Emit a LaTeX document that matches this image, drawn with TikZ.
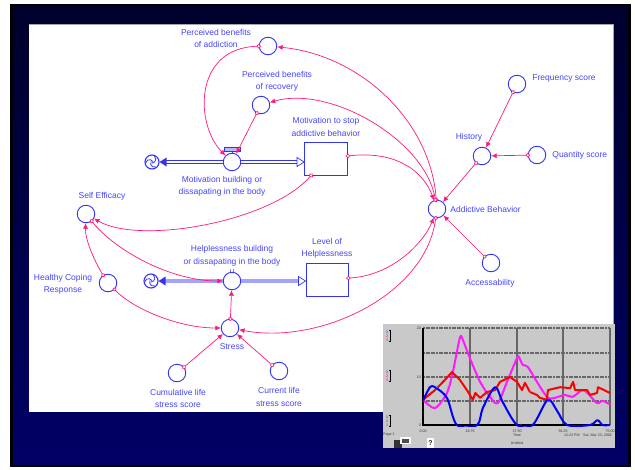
\documentclass[tikz,border=0pt]{standalone}
\usepackage{fontspec}
\setmainfont{Liberation Sans}
\usetikzlibrary{arrows.meta}
\usetikzlibrary{positioning}
\definecolor{sdblue}{rgb}{0.2, 0.2, 0.95}
\definecolor{sdtext}{rgb}{0.27, 0.27, 1}
\definecolor{sdpink}{rgb}{1, 0.1, 0.5}
\definecolor{navytop}{rgb}{0, 0, 0.17}
\definecolor{navybot}{rgb}{0, 0, 0.4}
\definecolor{panelgray}{rgb}{0.79, 0.79, 0.79}
\definecolor{gridgray}{rgb}{0.4, 0.4, 0.4}
\definecolor{numpink}{rgb}{0.8, 0.45, 1}
\definecolor{plotmag}{rgb}{1, 0.1, 1}

\tikzset{
    aux/.style={circle, draw=sdblue, line width=0.9pt, fill=white, minimum size=17.5pt, inner sep=0pt},
    stockbox/.style={draw=sdblue, line width=0.9pt, fill=white, minimum width=43pt, minimum height=33pt, inner sep=0pt},
    cloudy/.style={circle, draw=sdblue, line width=1.1pt, fill=white, minimum size=14pt, inner sep=0pt},
    lbl/.style={text=sdtext, font=\fontsize{8.5}{12.5}\selectfont, align=center, inner sep=0pt},
    infolink/.style={sdpink, line width=0.7pt, shorten <=-2.2pt, {Circle[length=4.4pt, fill=white]}-{Latex[length=5.5pt, width=5pt]}},
    pipe/.style={draw=sdblue, line width=0.7pt, double=white, double distance=2.4pt},
    tinytext/.style={font=\fontsize{3.6}{4}\selectfont, inner sep=0pt, text=gridgray!50!black},
}

\begin{document}
\begin{tikzpicture}[x=1pt, y=-1pt]
    \useasboundingbox (0,0) rectangle (635,469);
    \fill [black] (10,4) rectangle (631,467);
    \shade [top color=navytop, bottom color=navybot] (13,6) rectangle (628,464);
    \fill [white] (29,24) rectangle (613,412);
    \draw [gray!70] (29,24) -- (613,24) -- (613,412);

    \node [aux] (pba) at (268,46) {};
    \node [aux] (pbr) at (261,105) {};
    \node [cloudy] (mcloud) at (152,162) {};
    \node [aux] (mvalve) at (232,162) {};
    \node [stockbox] (mstock) at (326,158.5) {};
    \node [aux] (freq) at (517,84) {};
    \node [aux] (hist) at (482,156) {};
    \node [aux] (qty) at (537,155) {};
    \node [aux] (ab) at (437,209) {};
    \node [aux] (acc) at (491,263) {};
    \node [aux] (se) at (86,214) {};
    \node [aux] (hcr) at (108,283) {};
    \node [cloudy] (hcloud) at (151,281) {};
    \node [aux] (hvalve) at (232,281) {};
    \node [stockbox, minimum width=42pt] (lstock) at (327,279.5) {};
    \node [aux] (stress) at (230,328) {};
    \node [aux] (cls) at (177,373) {};
    \node [aux] (curr) at (279,371) {};

    \draw [pipe, shorten <=6pt] (mcloud) -- (mvalve);
    \draw [pipe, shorten >=6.5pt] (mvalve) -- (mvalve -| mstock.west);
    \fill [sdblue] (mcloud.east) -- ++(7,-4.5) -- ++(0,9) -- cycle;
    \draw [sdblue, fill=white, line width=0.7pt] (mvalve -| mstock.west) -- ++(-7,-4.5) -- ++(0,9) -- cycle;
    \draw [sdblue, line width=0.8pt] (mvalve.north) -- ++(0,-2.5);
    \draw [sdblue, fill=sdblue!35, line width=0.6pt] ([xshift=-8pt, yshift=11pt]mvalve.center) rectangle ([xshift=8pt, yshift=15pt]mvalve.center);

    \draw [pipe, double=sdblue!45, double distance=3.2pt, shorten <=6pt] (hcloud) -- (hvalve);
    \draw [pipe, double=sdblue!45, double distance=3.2pt, shorten >=6.5pt] (hvalve) -- (hvalve -| lstock.west);
    \fill [sdblue] (hcloud.east) -- ++(7,-4.5) -- ++(0,9) -- cycle;
    \draw [sdblue, fill=white, line width=0.7pt] (hvalve -| lstock.west) -- ++(-7,-4.5) -- ++(0,9) -- cycle;
    \draw [sdblue!60, line width=0.5pt] ([xshift=-1.5pt]hvalve.north) -- ++(0,-2.5) ([xshift=1.5pt]hvalve.north) -- ++(0,-2.5);

    \foreach \a in {30,150,270} {
        \draw [sdblue, line width=0.8pt] ([shift={(\a:1pt)}]mcloud.center) arc [start angle=\a, end angle=\a+140, radius=3.8pt];
        \draw [sdblue, line width=0.8pt] ([shift={(\a:1pt)}]hcloud.center) arc [start angle=\a, end angle=\a+140, radius=3.8pt];
    }

    \node [lbl] (pbalbl) at (216,38.5) {Perceived benefits\\of addiction};
    \node [lbl] (pbrlbl) at (277,81.5) {Perceived benefits\\of recovery};
    \node [lbl, above=5pt of mstock] (mstocklbl) {Motivation to stop\\addictive behavior};
    \node [lbl] (mflowlbl) at (222,186.5) {Motivation building or\\dissapating in the body};
    \node [lbl, right=6pt of freq, yshift=6pt] (freqlbl) {Frequency score};
    \node [lbl] (histlbl) at (469,137) {History};
    \node [lbl, right=6pt of qty] (qtylbl) {Quantity score};
    \node [lbl, right=4pt of ab] (ablbl) {Addictive Behavior};
    \node [lbl] (acclbl) at (490,283) {Accessability};
    \node [lbl] (selbl) at (102,196) {Self Efficacy};
    \node [lbl] (hcrlbl) at (63,284.5) {Healthy Coping\\Response};
    \node [lbl] (hflowlbl) at (232,256) {Helplessness building\\or dissapating in the body};
    \node [lbl, above=4pt of lstock] (lstocklbl) {Level of\\Helplessness};
    \node [lbl] (stresslbl) at (232,347) {Stress};
    \node [lbl] (clslbl) at (178,398.5) {Cumulative life\\stress score};
    \node [lbl] (currlbl) at (279,397) {Current life\\stress score};

    \draw [infolink] (pba) .. controls (193,48) and (195,125) .. (mvalve);
    \draw [infolink] (pbr) -- (mvalve);
    \draw [infolink] (ab) .. controls (430,120) and (360,55) .. (pba);
    \draw [infolink] (ab) .. controls (425,140) and (330,85) .. (pbr);
    \draw [infolink] (mstock) .. controls (400,150) and (425,175) .. (ab);
    \draw [infolink] (mstock) .. controls (270,222) and (140,245) .. (se);
    \draw [infolink] (se) .. controls (115,250) and (170,281) .. (hvalve);
    \draw [infolink] (hcr) .. controls (95,262) and (85,240) .. (se);
    \draw [infolink] (hcr) .. controls (135,310) and (180,328) .. (stress);
    \draw [infolink] (stress) -- (hvalve);
    \draw [infolink] (cls) -- (stress);
    \draw [infolink] (curr) -- (stress);
    \draw [infolink] (lstock) .. controls (395,275) and (425,240) .. (ab);
    \draw [infolink] (ab) .. controls (425,295) and (320,345) .. (stress);
    \draw [infolink] (hist) -- (ab);
    \draw [infolink] (freq) -- (hist);
    \draw [infolink] (qty) -- (hist);
    \draw [infolink] (acc) -- (ab);

    \fill [panelgray] (383,324) rectangle (615,448);
    \foreach \gx in {470,517,563,610}
        \draw [gridgray, line width=1.1pt] (\gx,328) -- (\gx,425);
    \foreach \gy in {328,353,377,401}
        \draw [gridgray, line width=1.1pt, dash pattern=on 2pt off 0.6pt] (423,\gy) -- (610,\gy);
    \draw [black, line width=1.2pt] (423,328) -- (423,425) -- (610,425);

    \begin{scope}[shift={(423,425)}, x=2.493pt, y=4.85pt, line width=2pt, line join=round]
        \clip (0,-0.4) rectangle (75.5,21);
        \draw [plotmag] plot [smooth, tension=0.5] coordinates {(0,5.2) (4.8,3.5) (9.6,6.6) (12,11) (14.8,18) (16,17.5) (18.8,13.8) (22.9,8.9) (26.9,5.8) (30,4.5) (33.7,8.9) (37.7,13.8) (38.5,14) (40,12.4) (42,12) (45.7,8.9) (49.7,5.8) (52,5.5) (57,6.2) (60,5.8) (63.8,7.2) (66,6.6) (69.8,4.5) (72,5) (75,4.2)};
        \draw [red] plot coordinates {(0,5.2) (4.8,7.2) (8.8,9.3) (11.6,10.9) (14.8,9.3) (17.6,7.2) (20,5.2) (21,6.6) (22.9,5.6) (25.7,6.8) (28.9,7.2) (30.9,8.9) (34.9,9.9) (37.7,8.9) (39.7,7.2) (40.9,8.7) (42.9,6.8) (45.7,6.2) (46.9,5.6) (49.7,5.2) (50.1,7.2) (55,7.8) (59,7.6) (60.2,8.9) (61,7.2) (65.8,7.2) (67,6.2) (69.8,6.6) (70.2,7.8) (75,6.6)};
        \draw [blue] plot [smooth, tension=0.5] coordinates {(0,5) (2.8,7.8) (4.8,7.8) (9.6,5.6) (13.6,0) (21.7,0) (24,3.5) (28.9,7.8) (32,4.7) (37.7,0) (44,0) (50,5.2) (53.7,3) (57.8,0) (67,0) (70,1) (72,0) (75,0)};
    \end{scope}

    \foreach \px/\py/\n [count=\k] in {428/386/1, 437/387/2, 447/387/3, 475/420/1, 483/398/2, 493/398/3, 521/424/1, 530/392/2, 539/388/3, 568/421/1, 577/384/2, 586/393/3}
        \node [tinytext, text=numpink] (cn\k) at (\px,\py) {\n};

    \foreach \ly [count=\k] in {336,376,421} {
        \node [tinytext, align=center] (leg\k) at (387,\ly) {\textcolor{blue}{1}\\\textcolor{red}{2}\\\textcolor{magenta}{3}};
        \draw [black, line width=0.6pt] ([xshift=1pt]leg\k.north east) -- ++(1.5,0) -- ([xshift=2.5pt]leg\k.south east) -- ++(-1.5,0);
    }

    \node [tinytext, anchor=east] (ytop) at (421,328) {20};
    \node [tinytext, anchor=east] (ymid) at (421,377) {10};
    \node [tinytext, anchor=east] (ybot) at (421,425) {0};
    \foreach \gx/\tl [count=\k] in {423/0.00, 470/18.75, 517/37.50, 563/56.25, 610/75.00}
        \node [tinytext] (xt\k) at (\gx,431) {\tl};
    \node [tinytext, anchor=west] (pagelbl) at (383,435) {Page 1};
    \node [tinytext] (timelbl) at (517,435) {Time};
    \node [tinytext, anchor=east] (stamplbl) at (612,435) {12:23 PM\quad Sat, Mar 23, 2002};
    \node [tinytext] (untitledlbl) at (517,443) {Untitled};

    \fill [gray!40!black] (394,440) rectangle (402,448);
    \fill [white] (400,437) rectangle (411,444);
    \fill [gray!60!black] (402,439) rectangle (409,443);
    \fill [white] (427,438) rectangle (434,448);
    \node [font=\fontsize{7}{7}\selectfont\bfseries, text=gray!30!black, inner sep=0pt] (helplbl) at (430.5,443) {?};
\end{tikzpicture}
\end{document}
